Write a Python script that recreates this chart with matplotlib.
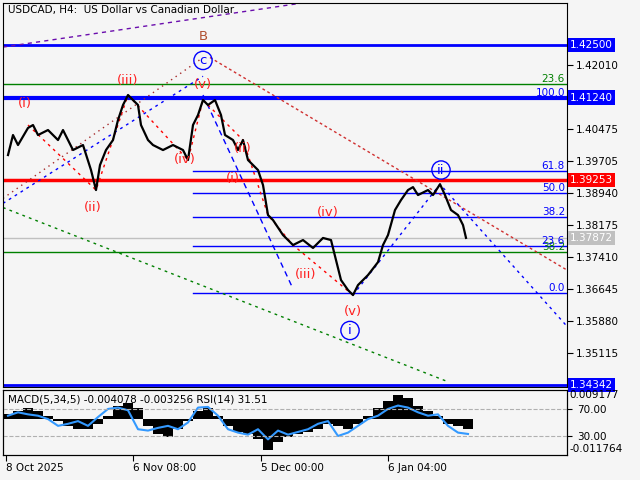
import numpy as np
import matplotlib
matplotlib.use("Agg")
import matplotlib.pyplot as plt
import matplotlib.transforms as mtrans

# x positions are in chart columns (pixels of the reference plot area)
price_x = [5, 10, 15, 25, 30, 35, 45, 55, 60, 70, 80, 88, 93, 97, 103, 110, 115, 120, 125, 130,
           135, 138, 145, 150, 160, 170, 180, 185, 190, 195, 200, 205, 212, 218, 222, 230, 235, 240,
           245, 255, 260, 265, 270, 280, 290, 300, 310, 320, 328, 333, 338, 345, 350, 355, 365, 375,
           380, 385, 392, 398, 405, 410, 415, 425, 430, 437, 442, 448, 455, 460, 463]
price = [1.3986, 1.4034, 1.4010, 1.4051, 1.4058, 1.4034, 1.4046, 1.4022, 1.4046, 1.3998, 1.4010,
         1.3950, 1.3902, 1.3962, 1.3998, 1.4022, 1.4070, 1.4106, 1.4130, 1.4118, 1.4106, 1.4058,
         1.4022, 1.4010, 1.3998, 1.4010, 1.3998, 1.3974, 1.4058, 1.4082, 1.4118, 1.4106, 1.4118,
         1.4082, 1.4034, 1.4022, 1.3998, 1.4022, 1.3974, 1.3950, 1.3914, 1.3842, 1.3830, 1.3794,
         1.3770, 1.3782, 1.3763, 1.3787, 1.3782, 1.3734, 1.3686, 1.3662, 1.3650, 1.3674, 1.3698,
         1.3729, 1.3770, 1.3794, 1.3854, 1.3878, 1.3902, 1.3909, 1.3890, 1.3902, 1.3890, 1.3916,
         1.3890, 1.3854, 1.3842, 1.3818, 1.37872]

ind_x = np.arange(5, 466, 10)
macd_hist = [0.002, 0.003, 0.004, 0.003, 0.001, -0.001, -0.003, -0.004, -0.004, -0.002, 0.001,
             0.005, 0.006, 0.004, -0.003, -0.006, -0.007, -0.004, -0.001, 0.003, 0.004, 0.001,
             -0.003, -0.005, -0.006, -0.008, -0.012, -0.009, -0.007, -0.006, -0.005, -0.004,
             -0.002, -0.003, -0.004, -0.002, 0.001, 0.004, 0.007, 0.009, 0.008, 0.005, 0.003,
             0.001, -0.002, -0.003, -0.004]
rsi = [60, 65, 62, 60, 55, 45, 48, 52, 45, 58, 70, 72, 68, 40, 38, 42, 45, 40, 50, 72, 73, 60,
       40, 35, 32, 40, 25, 38, 32, 36, 40, 48, 52, 30, 35, 45, 55, 60, 70, 75, 72, 65, 60, 62,
       45, 35, 33]

date_x = [3, 130, 258, 385]
date_labels = ["8 Oct 2025", "6 Nov 08:00", "5 Dec 00:00", "6 Jan 04:00"]
price_ticks = [1.42010, 1.40475, 1.39705, 1.38940, 1.38175, 1.37410, 1.36645,
               1.35880, 1.35115]
fib_levels = [1.3948, 1.3895, 1.3837, 1.3768, 1.3655]
fib_labels = ["61.8", "50.0", "38.2", "23.6", "0.0"]

bg = "#f5f5f5"
fig = plt.figure(figsize=(6.4, 4.8), dpi=100, facecolor=bg)
ax = fig.add_axes([3/640, 1 - 387/480, 564/640, 384/480], facecolor=bg)
ax2 = fig.add_axes([3/640, 1 - 455/480, 564/640, 65/480], facecolor=bg)
ax.set_xlim(0, 564)
ax.set_ylim(1.34294, 1.43508)
ax2.set_xlim(0, 564)
ax2.set_ylim(-0.01409, 0.01112)
fs = 7.5

# horizontal levels
ax.axhline(1.42500, color="#0000ff", lw=2)
ax.axhline(1.41240, color="#0000ff", lw=3)
ax.axhline(1.39253, color="#ff0000", lw=2.5)
ax.axhline(1.37872, color="#c0c0c0", lw=1)
ax.axhline(1.34342, color="#0000ff", lw=2)
ax.axhline(1.4156, color="#008000", lw=1)
ax.axhline(1.3753, color="#008000", lw=1)
ax.text(562, 1.4156, "23.6", color="#008000", fontsize=fs, ha="right", va="bottom")
ax.text(562, 1.4124, "100.0", color="#0000ff", fontsize=fs, ha="right", va="bottom")
ax.text(562, 1.3753, "38.2", color="#008000", fontsize=fs, ha="right", va="bottom")
for lv, lb in zip(fib_levels, fib_labels):
    ax.plot([190, 564], [lv, lv], color="#0000ff", lw=1)
    ax.text(562, lv, lb, color="#0000ff", fontsize=fs, ha="right", va="bottom")

# trend / channel lines
ax.plot([0, 297], [1.4245, 1.4350], color="#6a0dad", lw=1, ls=(0, (3, 3)))
ax.plot([0, 200], [1.3882, 1.4220], color="#a52a2a", lw=1, ls=(0, (1, 3)))
ax.plot([207, 564], [1.4220, 1.3710], color="#d03030", lw=1, ls=(0, (2, 2)))
ax.plot([0, 200], [1.3870, 1.4175], color="#0000ff", lw=1, ls=(0, (2, 3)))
ax.plot([200, 290], [1.4130, 1.3665], color="#0000ff", lw=1, ls=(0, (4, 3)))
ax.plot([350, 437, 564], [1.3650, 1.3916, 1.3575], color="#0000ff", lw=1, ls=(0, (2, 3)))
ax.plot([0, 445], [1.3860, 1.3442], color="#008000", lw=1, ls=(0, (2, 3)))
ax.plot([25, 93, 125, 185, 200], [1.4058, 1.3902, 1.4130, 1.3974, 1.4118],
        color="#ff0000", lw=1, ls=(0, (2, 3)))
ax.plot([200, 240, 265, 290, 350], [1.4118, 1.4022, 1.3842, 1.3770, 1.3650],
        color="#ff0000", lw=1, ls=(0, (2, 3)))

# price
ax.plot(price_x, price, color="black", lw=1.6)

# wave labels
red = "#ff2020"
for x, y, t in [(22, 1.4110, "(i)"), (90, 1.3860, "(ii)"), (125, 1.4165, "(iii)"),
                (182, 1.3975, "(iv)"), (200, 1.4155, "(v)"), (230, 1.3930, "(i)"),
                (240, 1.4002, "(ii)"), (303, 1.3700, "(iii)"), (325, 1.3848, "(iv)"),
                (350, 1.3610, "(v)")]:
    ax.text(x, y, t, color=red, fontsize=9.5, ha="center", va="center")
ax.text(200, 1.4270, "B", color="#b05030", fontsize=9.5, ha="center", va="center")
for x, y, t in [(200, 1.4213, "c"), (347, 1.3565, "i"), (438, 1.3950, "ii")]:
    ax.text(x, y, t, color="#0000ff", fontsize=9.5, ha="center", va="center",
            bbox=dict(boxstyle="circle,pad=0.2", fc="none", ec="#0000ff", lw=1))

ax.text(5, 1.4335, "USDCAD, H4:  US Dollar vs Canadian Dollar", fontsize=fs, va="center")

# right axis labels
ax.yaxis.tick_right()
ax.set_yticks(price_ticks)
ax.set_yticklabels(["%.5f" % p for p in price_ticks], fontsize=fs)
ax.tick_params(axis="y", length=4, pad=2)
for p, fc, tc in [(1.42500, "#0000ff", "white"), (1.41240, "#0000ff", "white"),
                  (1.39253, "#ff0000", "white"), (1.37872, "#c0c0c0", "white"),
                  (1.34342, "#0000ff", "white")]:
    ax.text(1.005, p, "%.5f" % p, transform=mtrans.blended_transform_factory(ax.transAxes, ax.transData),
            fontsize=fs, color=tc, va="center", ha="left",
            bbox=dict(boxstyle="square,pad=0.2", fc=fc, ec="none"))
ax.set_xticks([])

# indicator panel
ax2.bar(ind_x, macd_hist, width=10, color="black")
ax2r = ax2.twinx()
ax2r.set_ylim(1.9, 98)
ax2r.plot(ind_x, rsi, color="#3399ff", lw=1.5)
ax2r.axhline(70, color="#b0b0b0", lw=0.8, ls="--")
ax2r.axhline(30, color="#b0b0b0", lw=0.8, ls="--")
ax2r.set_yticks([70, 30])
ax2r.set_yticklabels(["70.00", "30.00"], fontsize=fs)
ax2.set_yticks([])
for v, lb in [(0.009177, "0.009177"), (-0.011764, "-0.011764")]:
    ax2.text(1.005, v, lb, transform=mtrans.blended_transform_factory(ax2.transAxes, ax2.transData),
             fontsize=fs, va="center")
ax2.text(5, 0.0095, "MACD(5,34,5) -0.004078 -0.003256 RSI(14) 31.51", fontsize=fs, va="top")
ax2.set_xticks(date_x)
ax2.set_xticklabels(date_labels, fontsize=fs, ha="left")
ax2.tick_params(axis="x", length=4, pad=2)

plt.savefig("out.png", dpi=100, facecolor=bg)
